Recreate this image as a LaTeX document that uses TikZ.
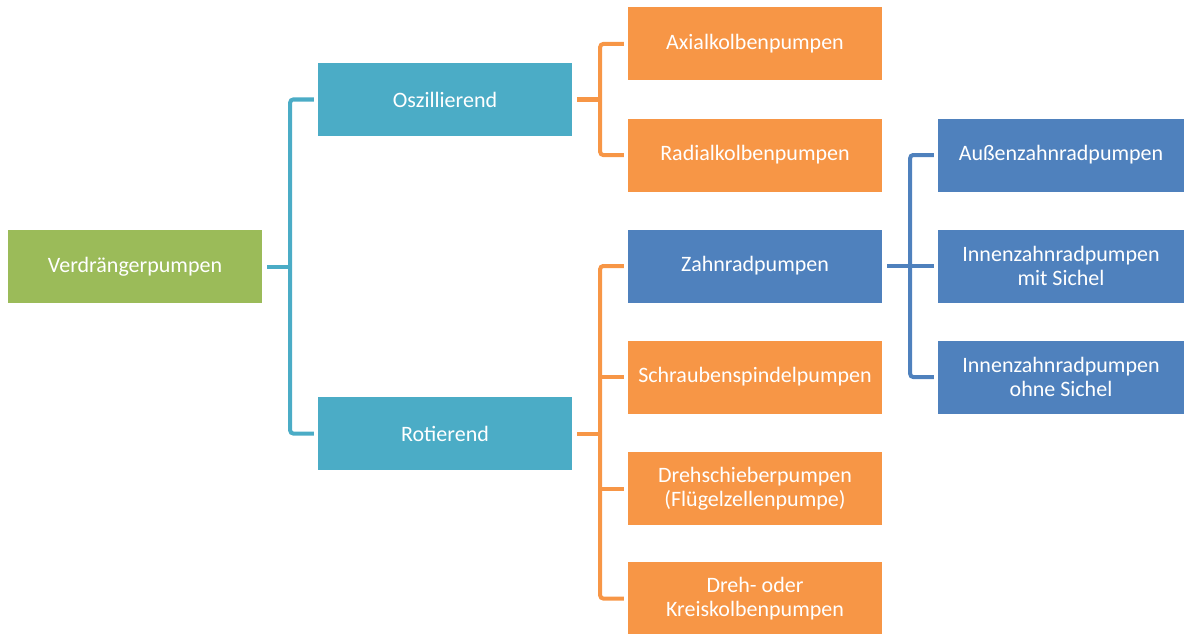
\documentclass[tikz,border=0pt]{standalone}
\usepackage{fontspec}
\setmainfont{Carlito}
\usetikzlibrary{positioning, calc}

\definecolor{boxgreen}{HTML}{9BBB59}
\definecolor{boxteal}{HTML}{4BACC6}
\definecolor{boxorange}{HTML}{F79646}
\definecolor{boxblue}{HTML}{4F81BD}

\tikzset{
    pbox/.style={minimum width=254pt, minimum height=73pt, inner sep=0pt,
        text=white, align=center, font=\fontsize{22}{24}\selectfont},
    greenbox/.style={pbox, fill=boxgreen},
    tealbox/.style={pbox, fill=boxteal},
    orangebox/.style={pbox, fill=boxorange},
    bluebox/.style={pbox, fill=boxblue, minimum width=246pt},
    link/.style={line width=4pt, rounded corners=3pt},
}

\begin{document}
\begin{tikzpicture}[x=1pt, y=-1pt]
    \useasboundingbox (0,0) rectangle (1184,634);
    % level 0
    \node [greenbox] (verd) at (135,266.5) {Verdrängerpumpen};
    % level 1
    \node [tealbox] (osz) at (445,99.5) {Oszillierend};
    \node [tealbox] (rot) at (445,433.5) {Rotierend};
    % level 2
    \node [orangebox] (axial) at (755,44) {Axialkolbenpumpen};
    \node [orangebox] (radial) at (755,155) {Radialkolbenpumpen};
    \node [pbox, fill=boxblue] (zahn) at (755,266) {Zahnradpumpen};
    \node [orangebox] (schraube) at (755,377) {Schraubenspindelpumpen};
    \node [orangebox] (dreh) at (755,488.5) {Drehschieberpumpen\\(Flügelzellenpumpe)};
    \node [orangebox] (kreis) at (755,598.5) {Dreh- oder\\Kreiskolbenpumpen};
    % level 3
    \node [bluebox] (aussen) at (1061,155) {Außenzahnradpumpen};
    \node [bluebox] (innen1) at (1061,266) {Innenzahnradpumpen\\mit Sichel};
    \node [bluebox] (innen2) at (1061,377) {Innenzahnradpumpen\\ohne Sichel};

    % connectors
    \coordinate (v1) at ($(verd.east)+(28,0)$);
    \draw [link, boxteal] ([xshift=5]verd.east) -- (v1);
    \draw [link, boxteal] ([xshift=-4]osz.west) -| (v1) |- ([xshift=-4]rot.west);

    \coordinate (o1) at ($(osz.east)+(28,0)$);
    \draw [link, boxorange] ([xshift=5]osz.east) -- (o1);
    \draw [link, boxorange] ([xshift=-4]axial.west) -| (o1) |- ([xshift=-4]radial.west);

    \coordinate (r1) at ($(rot.east)+(28,0)$);
    \draw [link, boxorange] ([xshift=5]rot.east) -- (r1);
    \draw [link, boxorange] ([xshift=-4]zahn.west) -| (r1) |- ([xshift=-4]kreis.west);
    \draw [link, boxorange] (r1 |- schraube.west) -- ([xshift=-4]schraube.west);
    \draw [link, boxorange] (r1 |- dreh.west) -- ([xshift=-4]dreh.west);

    \coordinate (z1) at ($(zahn.east)+(28,0)$);
    \draw [link, boxblue] ([xshift=5]zahn.east) -- ([xshift=-4]innen1.west);
    \draw [link, boxblue] ([xshift=-4]aussen.west) -| (z1) |- ([xshift=-4]innen2.west);
\end{tikzpicture}
\end{document}
